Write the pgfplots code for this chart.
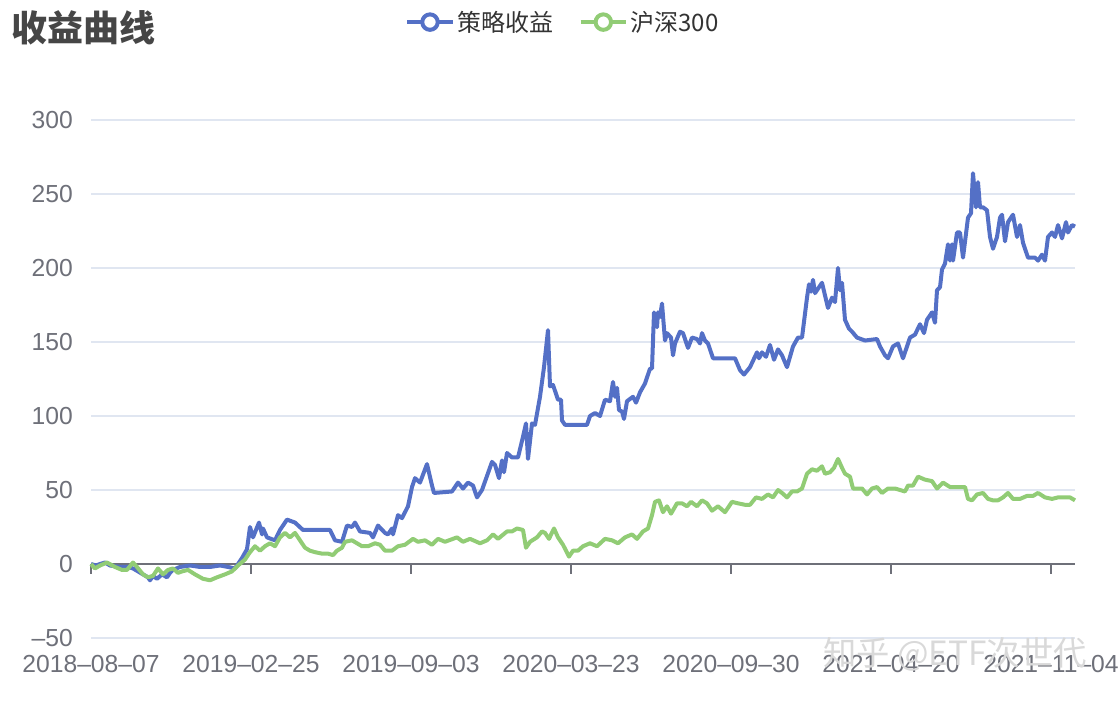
\documentclass[border=0pt]{standalone}
\usepackage{pgfplots}
\pgfplotsset{compat=1.18}
\usepackage{fontspec}
\setmainfont{Liberation Sans}
\newfontfamily\cjk{Noto Sans CJK SC}
\definecolor{bluec}{HTML}{5470C6}
\definecolor{greenc}{HTML}{91CC75}
\definecolor{gridc}{HTML}{E0E6F1}
\definecolor{axisc}{HTML}{6E7079}
\definecolor{titlec}{HTML}{464646}
\definecolor{legc}{HTML}{333333}
\begin{document}
\begin{tikzpicture}[x=0.75pt,y=0.75pt]
\begin{axis}[
  at={(0,0)}, anchor=south west,
  scale only axis, width=738pt, height=388.5pt,
  xmin=0, xmax=984, ymin=-50, ymax=300,
  clip=false,
  axis line style={draw=none},
  major tick length=0pt,
  xtick={0,160,320,480,640,800,960},
  xticklabels={2018--08--07,2019--02--25,2019--09--03,2020--03--23,2020--09--30,2021--04--20,2021--11--04},
  ytick={-50,0,50,100,150,200,250,300},
  yticklabels={--50,0,50,100,150,200,250,300},
  ymajorgrids, major grid style={color=gridc, line width=1.5pt},
  ticklabel style={font=\fontsize{18.5}{20}\selectfont, text=axisc},
  xticklabel style={anchor=north, inner sep=0pt, yshift=-13pt},
  yticklabel style={anchor=east, inner sep=0pt, xshift=-13.5pt},
  legend columns=2,
  legend style={at={(0.48,1.189)}, anchor=center, draw=none, fill=none,
    font=\cjk\fontsize{18}{20}\selectfont, text=legc,
    /tikz/every even column/.append style={column sep=17pt}},
  legend image code/.code={
    \draw[line width=3pt] (0pt,0pt) -- (34pt,0pt);
    \draw[line width=3pt, fill=white] (17pt,0pt) circle (5.8pt);
  },
]
\draw[axisc, line width=1.7pt] (axis cs:0,0) -- (axis cs:984,0);
\pgfplotsinvokeforeach{0,160,320,480,640,800,960}{
  \draw[axisc, line width=1.7pt] (axis cs:#1,0) -- ([yshift=-7.5pt]axis cs:#1,0);
}
\addplot[bluec, line width=3pt, line join=round, mark=none] coordinates {
(0,0)(5,-1)(9,0)(14,1)(19,-1)(29,-2)(37,-2)(42,-3)(47,-5)(52,-7)(57,-9)(59,-11)(62,-8)(66,-10)(71,-7)(76,-9)(79,-6)(82,-4)(89,-2)(99,-1)(109,-2)(119,-2)(129,-1)(137,-2)(144,-3)(147,0)(151,4)(156,10)(159,25)(162,18)(168,28)(171,20)(172,24)(176,18)(184,16)(189,23)(196,30)(204,28)(212,23)(239,23)(244,16)(251,15)(256,26)(261,25)(264,28)(269,22)(279,21)(282,18)(287,26)(294,21)(297,20)(301,24)(302,20)(307,33)(311,31)(317,39)(321,52)(324,58)(329,55)(336,67.5)(341,53)(343,48)(361,49)(367,55)(372,51)(377,55)(382,53)(386,45)(391,50)(401,69)(404,67)(408,58)(411,70)(413,62)(416,75)(421,72)(427,72)(432,86)(435,95)(437,71)(441,95)(444,94)(449,113)(453,133)(457,158)(459,120)(462,121)(467,111)(470,111)(471,97)(474,94)(496,94)(499,100)(504,102)(509,100)(514,111)(519,110)(522,123)(524,113)(526,119)(528,104)(531,103)(533,98)(536,110)(542,113)(545,109)(549,116)(554,122)(559,132)(561,132)(563,170)(566,160)(567,170)(569,167)(571,176)(574,151)(576,156)(580,153)(582,141)(584,149)(589,157)(592,156)(597,146)(601,153)(606,152)(609,149)(611,156)(614,151)(617,149)(622,139)(644,139)(649,131)(653,128)(659,133)(666,143)(668,139)(671,143)(675,140)(679,148)(683,138)(687,145)(691,141)(696,133)(702,147)(707,153)(711,153)(716,180)(718,189)(720,184)(722,192)(724,183)(731,190)(737,173)(741,180)(744,177)(747,200)(749,185)(751,190)(754,165)(758,159)(761,157)(766,153)(774,151)(786,152)(789,147)(794,141)(797,139)(802,147)(807,149)(812,139)(819,153)(824,155)(829,162)(833,156)(836,165)(841,170)(844,163)(846,185)(849,187)(851,199)(854,203)(857,216)(859,205)(861,216)(862,205)(866,224)(869,224)(872,207)(877,234)(880,237)(882,264)(885,241)(887,258)(889,241)(892,241)(896,239)(899,221)(902,213)(906,221)(909,234)(911,236)(914,218)(917,231)(922,236)(926,221)(929,229)(932,217)(937,207)(944,207)(947,205)(951,209)(954,205)(957,221)(961,224)(964,221)(967,229)(971,220)(975,231)(977,224)(981,229)(984,228)
};
\addlegendentry{策略收益}
\addplot[greenc, line width=3pt, line join=round, mark=none] coordinates {
(0,0)(4,-3)(9,-1)(16,1)(24,-2)(31,-4)(36,-4)(42,1)(46,-2)(52,-7)(57,-9)(62,-8)(67,-3)(72,-7)(77,-4)(82,-3)(87,-6)(91,-5)(97,-4)(104,-7)(112,-10)(119,-11)(126,-9)(134,-7)(141,-5)(147,-1)(154,3)(159,8)(164,12)(169,9)(174,12)(179,14)(184,12)(189,18)(194,21)(199,18)(204,21)(209,16)(214,11)(219,9)(224,8)(231,7)(237,7)(242,6)(246,9)(251,11)(254,15)(261,16)(266,14)(271,12)(277,12)(284,14)(289,13)(294,9)(301,9)(307,12)(314,13)(322,17)(327,15)(334,16)(341,13)(347,17)(354,15)(366,18)(372,15)(379,17)(389,14)(396,16)(402,20)(407,17)(416,22)(421,22)(426,24)(432,23)(435,11)(439,15)(446,18)(451,22)(454,21)(458,17)(463,24)(467,18)(472,13)(478,5)(482,9)(487,9)(492,12)(499,14)(506,12)(514,17)(521,16)(527,14)(534,18)(541,20)(546,17)(552,22)(557,24)(561,33)(564,42)(568,43)(572,35)(576,39)(580,34)(586,41)(591,41)(596,39)(600,42)(606,39)(611,43)(616,41)(621,36)(627,39)(634,35)(641,42)(647,41)(654,40)(659,40)(665,45)(671,44)(677,47)(682,45)(687,50)(691,48)(696,45)(701,49)(706,49)(711,51)(716,61)(721,64)(726,63)(731,66)(734,61)(739,62)(743,65)(747,71)(751,65)(754,61)(759,59)(762,51)(766,51)(771,51)(776,47)(781,51)(786,52)(791,48)(797,51)(804,51)(809,50)(814,49)(817,53)(822,53)(827,59)(834,57)(841,56)(846,51)(852,55)(859,52)(866,52)(874,52)(877,44)(881,43)(886,47)(892,48)(897,44)(902,43)(907,43)(912,45)(917,48)(922,44)(929,44)(936,46)(942,46)(947,48)(954,45)(961,44)(967,45)(974,45)(979,45)(984,43)
};
\addlegendentry{沪深300}
\end{axis}
\node[anchor=west, inner sep=0pt, text=titlec, font=\cjk\bfseries\fontsize{27}{29}\selectfont] at (-80,610) {收益曲线};
\node[anchor=center, inner sep=0pt, text=black!15, font=\cjk\fontsize{25}{27}\selectfont] at (864,-16) {知乎 @ETF次世代};
\pgfresetboundingbox
\useasboundingbox (-91,-62) rectangle (1029,638);
\end{tikzpicture}
\end{document}
